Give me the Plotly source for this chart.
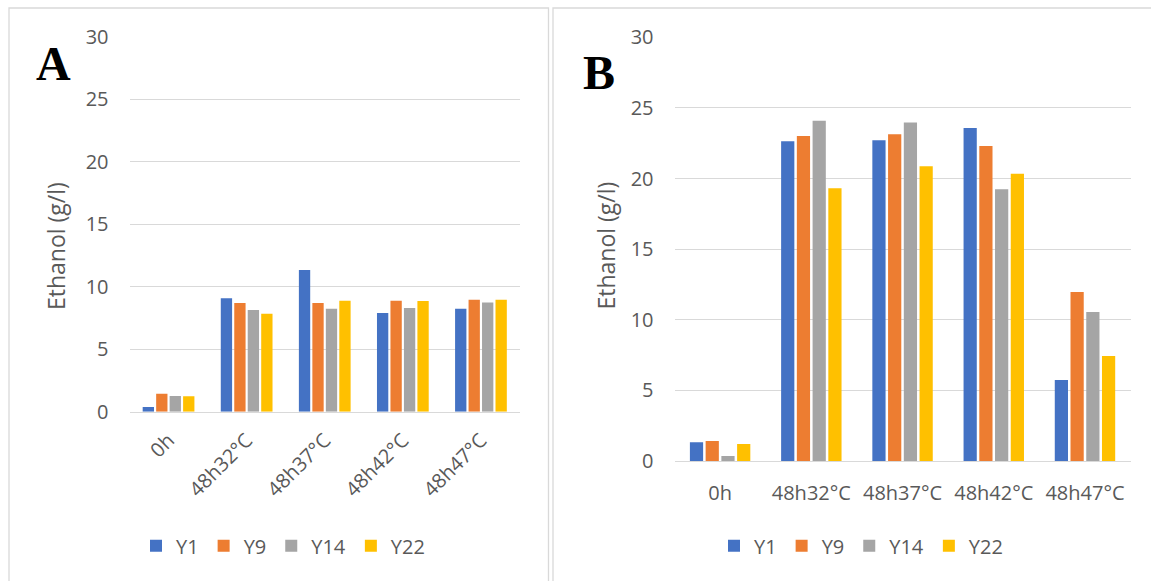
import plotly.graph_objects as go

categories = ["0h", "48h32°C", "48h37°C", "48h42°C", "48h47°C"]
series_names = ["Y1", "Y9", "Y14", "Y22"]
colors = ["#4472C4", "#ED7D31", "#A5A5A5", "#FFC000"]

# Panel A values (g/l)
a_Y1 = [0.37, 9.08, 11.35, 7.90, 8.25]
a_Y9 = [1.44, 8.70, 8.70, 8.89, 8.97]
a_Y14 = [1.26, 8.14, 8.25, 8.30, 8.75]
a_Y22 = [1.23, 7.85, 8.89, 8.86, 8.97]

# Panel B values (g/l)
b_Y1 = [1.32, 22.64, 22.71, 23.58, 5.74]
b_Y9 = [1.42, 23.02, 23.14, 22.31, 11.97]
b_Y14 = [0.35, 24.10, 23.96, 19.24, 10.55]
b_Y22 = [1.20, 19.31, 20.87, 20.33, 7.44]

y_ticks = [0, 5, 10, 15, 20, 25, 30]

W, H = 1151, 581
FONT = "Open Sans"
TXT = "#595959"
GRID = "#D9D9D9"

fig = go.Figure()

for name, vals, col in zip(series_names, [a_Y1, a_Y9, a_Y14, a_Y22], colors):
    fig.add_trace(go.Bar(x=categories, y=vals, name=name, marker=dict(color=col, line=dict(width=0)),
                         xaxis="x", yaxis="y", legend="legend"))
for name, vals, col in zip(series_names, [b_Y1, b_Y9, b_Y14, b_Y22], colors):
    fig.add_trace(go.Bar(x=categories, y=vals, name=name, marker=dict(color=col, line=dict(width=0)),
                         xaxis="x2", yaxis="y2", legend="legend2"))

def px_x(p):
    return p / W

def px_y(p):
    return 1 - p / H

yaxis_common = dict(range=[0, 30], tickvals=y_ticks, showgrid=True, gridcolor=GRID, gridwidth=1.3,
                    zeroline=False, showline=False, ticks="", ticklabelstandoff=20, automargin=False,
                    tickfont=dict(family=FONT, size=20, color=TXT), fixedrange=True)

legend_common = dict(orientation="h", yanchor="middle", y=px_y(545.7),
                     font=dict(family=FONT, size=20, color=TXT), bgcolor="rgba(0,0,0,0)",
                     itemwidth=30, traceorder="normal")

fig.update_layout(
    width=W, height=H,
    margin=dict(l=0, r=0, t=0, b=0, pad=0, autoexpand=False),
    paper_bgcolor="white", plot_bgcolor="white",
    barmode="group", bargap=0.31, bargroupgap=0.16,
    font=dict(family=FONT, color=TXT),
    xaxis=dict(domain=[px_x(129.5), px_x(520)], anchor="y", showgrid=False, showline=True,
               linecolor=GRID, linewidth=1.3, ticks="", tickangle=-45, ticklabelstandoff=8,
               automargin=False, tickfont=dict(family=FONT, size=20, color=TXT), fixedrange=True),
    yaxis=dict(domain=[px_y(411.7), px_y(37)], anchor="x", **yaxis_common),
    xaxis2=dict(domain=[px_x(674.5), px_x(1130.6)], anchor="y2", showgrid=False, showline=True,
                linecolor=GRID, linewidth=1.3, ticks="", tickangle=0, ticklabelstandoff=14,
                automargin=False, tickfont=dict(family=FONT, size=20, color=TXT), fixedrange=True),
    yaxis2=dict(domain=[px_y(461), px_y(37.3)], anchor="x2", **yaxis_common),
    legend=dict(x=px_x(283), xanchor="center", **legend_common),
    legend2=dict(x=px_x(861), xanchor="center", **legend_common),
    showlegend=True,
)

# panel frames
fig.add_shape(type="rect", xref="paper", yref="paper", x0=px_x(9), x1=px_x(548.5), y0=-0.05, y1=px_y(8),
              line=dict(color=GRID, width=1.3), fillcolor="rgba(0,0,0,0)", layer="below")
fig.add_shape(type="rect", xref="paper", yref="paper", x0=px_x(553), x1=1.05, y0=-0.05, y1=px_y(8),
              line=dict(color=GRID, width=1.3), fillcolor="rgba(0,0,0,0)", layer="below")

# axis titles
for xc in (56, 605.5):
    fig.add_annotation(text="Ethanol (g/l)", xref="paper", yref="paper", x=px_x(xc), y=px_y(246),
                       xanchor="center", yanchor="middle", textangle=-90, showarrow=False,
                       font=dict(family=FONT, size=23, color=TXT))

# panel letters
fig.add_annotation(text="<b>A</b>", xref="paper", yref="paper", x=px_x(53), y=px_y(63),
                   xanchor="center", yanchor="middle", showarrow=False,
                   font=dict(family="Liberation Serif", size=48, color="black"))
fig.add_annotation(text="<b>B</b>", xref="paper", yref="paper", x=px_x(599), y=px_y(72.5),
                   xanchor="center", yanchor="middle", showarrow=False,
                   font=dict(family="Liberation Serif", size=48, color="black"))

fig.write_html("out.html", config={"displayModeBar": False},
               post_script="document.body.style.margin='0';document.body.style.overflow='hidden';")
